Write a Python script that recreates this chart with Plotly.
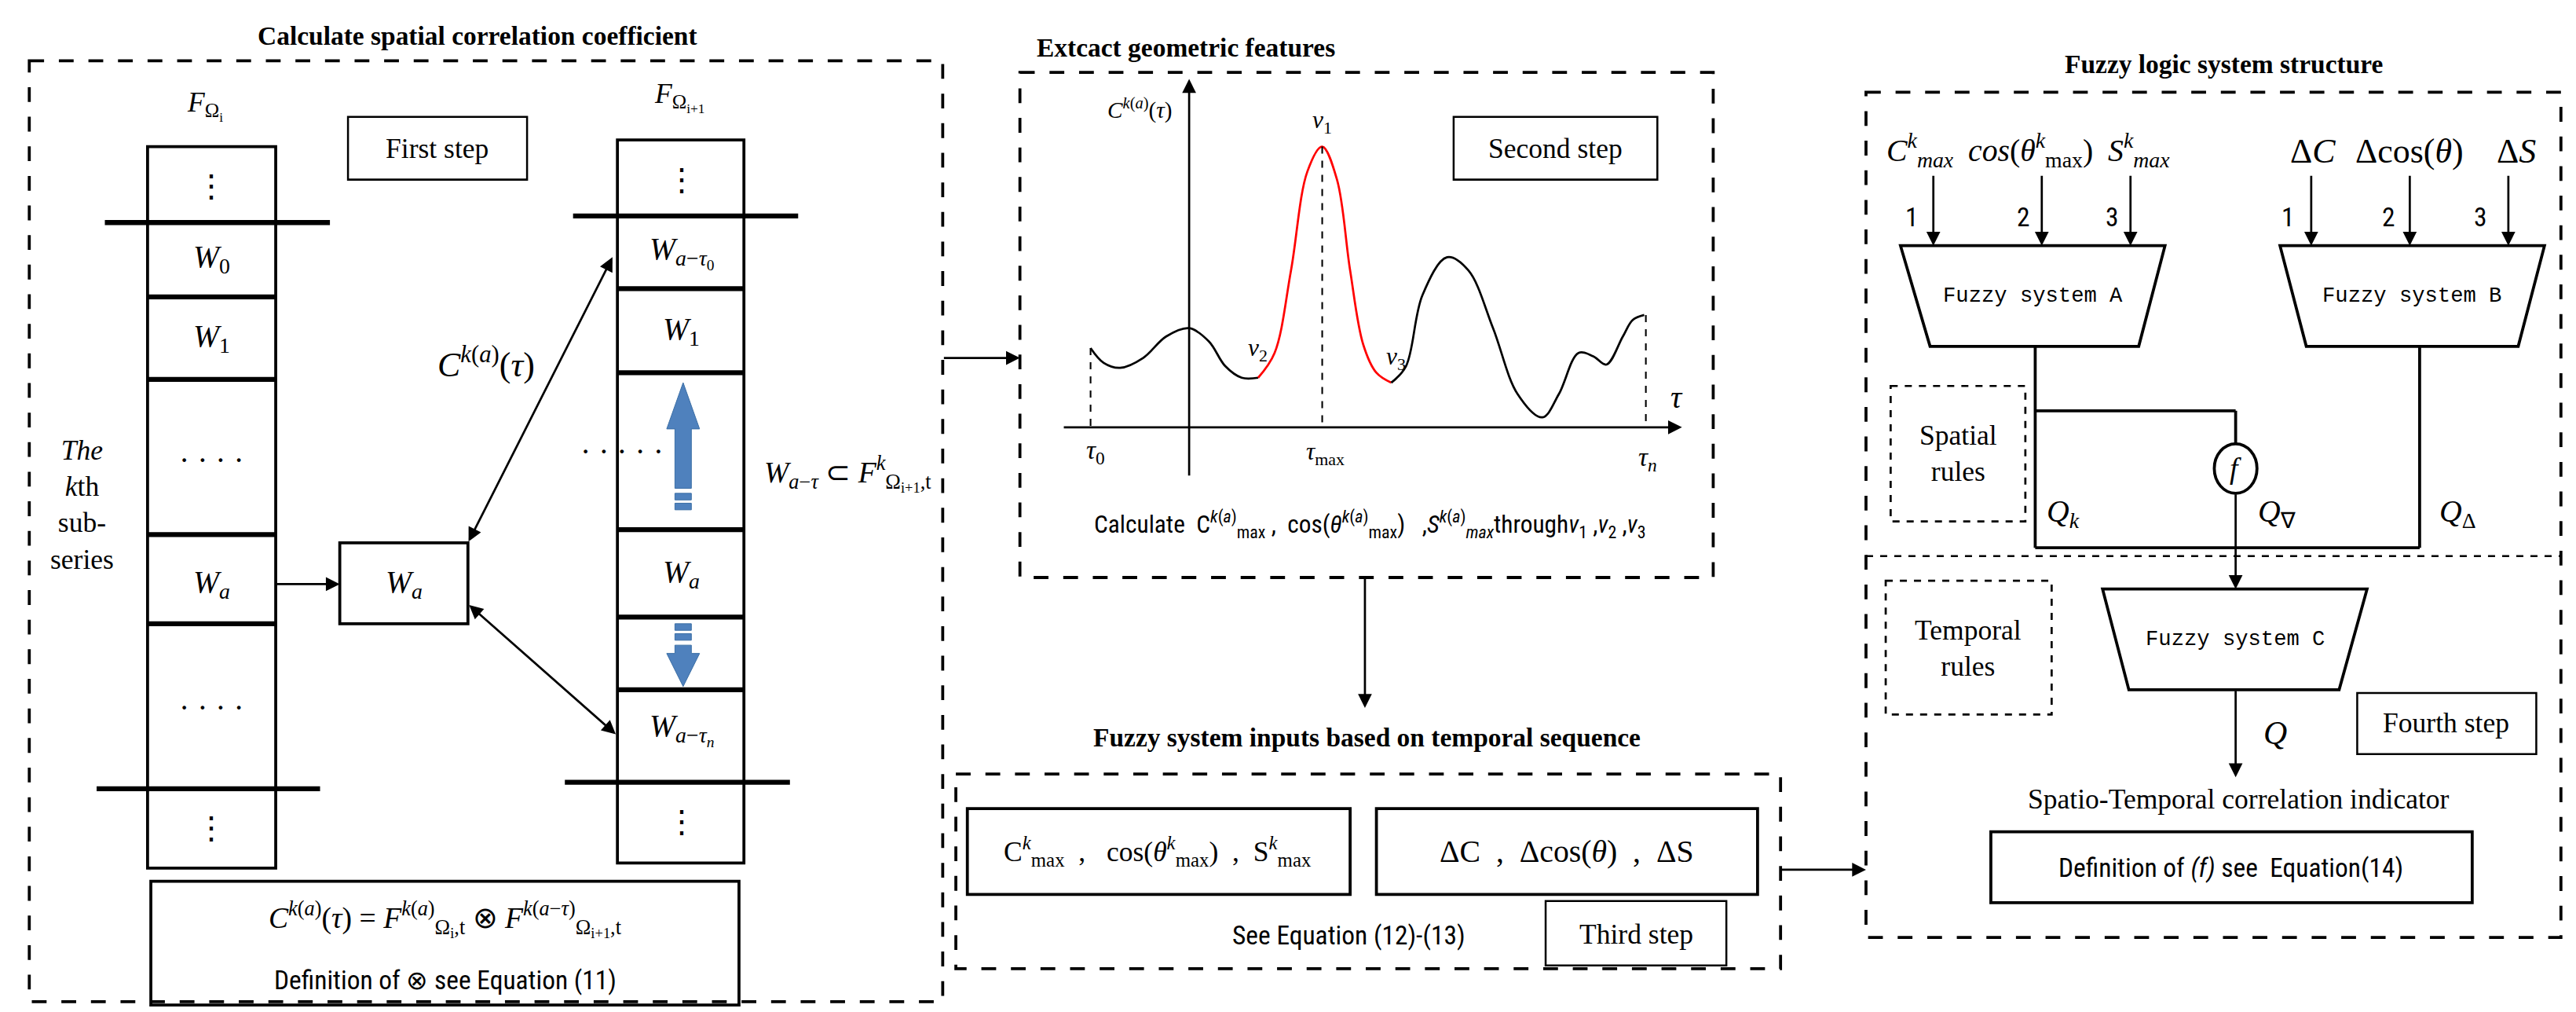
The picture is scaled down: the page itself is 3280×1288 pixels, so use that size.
import plotly.graph_objects as go

# curve in the "second step" panel (panel coordinates, y grows downwards)
curve_a_x = [660, 668, 678, 692, 706, 720, 732, 742, 752, 762]
curve_a_y = [207, 216, 219, 213, 200, 195, 203, 218, 225, 225]
curve_red_x = [762, 772, 782, 792, 801, 810, 818, 826, 834, 843]
curve_red_y = [225, 210, 160, 100, 85, 105, 160, 205, 222, 228]
curve_b_x = [843, 852, 862, 877, 890, 905, 920, 935, 945, 957, 966, 974, 984, 990, 997]
curve_b_y = [228, 218, 175, 152, 160, 195, 235, 249, 235, 210, 212, 217, 200, 190, 187]

left_labels = ["⋮", "<i>W</i><sub>0</sub>", "<i>W</i><sub>1</sub>", "· · · ·", "<i>W</i><sub><i>a</i></sub>", "· · · ·", "⋮"]
right_labels = ["⋮", "<i>W</i><sub><i>a</i>−<i>τ</i><sub>0</sub></sub>", "<i>W</i><sub>1</sub>", "· · · · ·",
                "<i>W</i><sub><i>a</i></sub>", "", "<i>W</i><sub><i>a</i>−<i>τ</i><sub><i>n</i></sub></sub>", "⋮"]

SERIF = "Liberation Serif"
NARROW = "Roboto Condensed, Liberation Sans Narrow, Noto Sans"
S = 3280 / 1568

fig = go.Figure()
shapes = []
ann = []


def box(x0, y0, x1, y1, w=1.8, dash="solid"):
    shapes.append(dict(type="rect", x0=x0, y0=y0, x1=x1, y1=y1, line=dict(color="black", width=w * S, dash=dash)))


def line(x0, y0, x1, y1, w=1.8, dash="solid", color="black"):
    shapes.append(dict(type="line", x0=x0, y0=y0, x1=x1, y1=y1, line=dict(color=color, width=w * S, dash=dash)))


def text(x, y, t, size=13, font=SERIF, bold=False):
    if bold:
        t = "<b>" + t + "</b>"
    ann.append(dict(x=x, y=y, text=t, showarrow=False, font=dict(family=font, size=size * S, color="black")))


def arrow(x0, y0, x1, y1, both=False):
    ann.append(dict(x=x1, y=y1, ax=x0, ay=y0, axref="x", ayref="y", xref="x", yref="y", text="",
                    showarrow=True, arrowhead=2, arrowsize=1.3, arrowwidth=1.3 * S, arrowcolor="black",
                    arrowside="end+start" if both else "end", standoff=0, startstandoff=0))


def trap(xt0, xt1, xb0, xb1, yt, yb, label):
    shapes.append(dict(type="path", path=f"M{xt0},{yt} L{xt1},{yt} L{xb1},{yb} L{xb0},{yb} Z",
                       line=dict(color="black", width=1.8 * S)))
    text((xt0 + xt1) / 2, (yt + yb) / 2, label, 13, "Liberation Mono, DejaVu Sans Mono")


DASH = "8px,5px"

# ---------- panel 1 ----------
box(14, 33, 570, 603, 1.8, "longdash")
text(287, 18, "Calculate spatial correlation coefficient", 16, SERIF, True)
text(121, 60, "<i>F</i><sub>Ω<sub>i</sub></sub>", 17)
box(86, 85, 164, 522)
for y, x0, x1 in [(131, 60, 197), (176, 86, 164), (226, 86, 164), (320, 86, 164), (374, 86, 164), (474, 55, 191)]:
    line(x0, y, x1, y, 3)
for y, t in zip([109, 153, 201, 275, 350, 425, 498], left_labels):
    text(125, y, t, 19)
text(46, 302, "<i>The</i><br><i>k</i>th<br>sub-<br>series", 17)
box(208, 67, 317, 105, 1.2)
text(262, 86, "First step", 17)
box(203, 325, 281, 374)
text(242, 350, "<i>W</i><sub><i>a</i></sub>", 19)
arrow(164, 350, 203, 350)

text(410, 55, "<i>F</i><sub>Ω<sub>i+1</sub></sub>", 17)
box(372, 81, 449, 519)
for y, x0, x1 in [(127, 345, 482), (171, 372, 449), (222, 372, 449), (317, 372, 449), (370, 372, 449), (414, 372, 449), (470, 340, 477)]:
    line(x0, y, x1, y, 3)
for y, t in zip([105, 149, 197, 270, 344, 392, 438, 494], right_labels):
    text(411 if t != "· · · · ·" else 375, y, t, 19)

blue = "#4f81bd"
shapes.append(dict(type="path", path="M402,256 L412,228 L422,256 L417,256 L417,292 L407,292 L407,256 Z",
                   fillcolor=blue, line=dict(color="#3a6ea5", width=1)))
shapes.append(dict(type="path", path="M402,392 L412,412 L422,392 L417,392 L417,387 L407,387 L407,392 Z",
                   fillcolor=blue, line=dict(color="#3a6ea5", width=1)))
for y0 in [295, 301, 374, 380]:
    shapes.append(dict(type="rect", x0=407, x1=417, y0=y0, y1=y0 + 4, fillcolor=blue, line=dict(color="#3a6ea5", width=1)))

arrow(281, 325, 369, 152, both=True)
arrow(281, 362, 371, 441, both=True)
text(292, 216, "<i>C</i><sup><i>k</i>(<i>a</i>)</sup>(<i>τ</i>)", 21)
text(512, 283, "<i>W</i><sub><i>a</i>−<i>τ</i></sub> ⊂ <i>F</i><sup><i>k</i></sup><sub>Ω<sub>i+1</sub>,t</sub>", 18)

box(88, 530, 446, 605)
text(267, 553, "<i>C</i><sup><i>k</i>(<i>a</i>)</sup>(<i>τ</i>) = <i>F</i><sup><i>k</i>(<i>a</i>)</sup><sub>Ω<sub>i</sub>,t</sub> ⊗ "
     "<i>F</i><sup><i>k</i>(<i>a</i>−<i>τ</i>)</sup><sub>Ω<sub>i+1</sub>,t</sub>", 18)
text(267, 590, "Definition of ⊗ see Equation (11)", 16, NARROW)
arrow(570, 213, 617, 213)

# ---------- panel 2 ----------
box(617, 40, 1039, 346, 1.8, "longdash")
text(718, 25, "Extcact geometric features", 16, SERIF, True)
arrow(720, 285, 720, 44)
arrow(643, 255, 1020, 255)
line(660, 207, 660, 255, 1, "dash")
line(801, 85, 801, 255, 1, "dash")
line(998, 187, 998, 255, 1, "dash")
fig.add_trace(go.Scatter(x=curve_a_x, y=curve_a_y, mode="lines", line=dict(color="black", width=1.3 * S, shape="spline")))
fig.add_trace(go.Scatter(x=curve_red_x, y=curve_red_y, mode="lines", line=dict(color="red", width=1.3 * S, shape="spline")))
fig.add_trace(go.Scatter(x=curve_b_x, y=curve_b_y, mode="lines", line=dict(color="black", width=1.3 * S, shape="spline")))
text(690, 62, "<i>C</i><sup><i>k</i>(<i>a</i>)</sup>(<i>τ</i>)", 14)
text(801, 70, "<i>v</i><sub>1</sub>", 15)
text(762, 208, "<i>v</i><sub>2</sub>", 15)
text(846, 213, "<i>v</i><sub>3</sub>", 15)
text(1017, 237, "<i>τ</i>", 19)
text(663, 270, "<i>τ</i><sub>0</sub>", 16)
text(803, 271, "<i>τ</i><sub>max</sub>", 15)
text(999, 274, "<i>τ</i><sub><i>n</i></sub>", 16)
box(881, 67, 1005, 105, 1.2)
text(943, 86, "Second step", 17)
text(830, 314, "Calculate  C<sup><i>k</i>(<i>a</i>)</sup><sub>max</sub> ,  cos(<i>θ</i><sup><i>k</i>(<i>a</i>)</sup><sub>max</sub>)   ,"
     "<i>S</i><sup><i>k</i>(<i>a</i>)</sup><sub><i>max</i></sub>through<i>v</i><sub>1</sub> ,<i>v</i><sub>2</sub> ,<i>v</i><sub>3</sub>", 15, NARROW)
arrow(827, 346, 827, 425)

# ---------- panel 3 ----------
text(828, 443, "Fuzzy system inputs based on temporal sequence", 16, SERIF, True)
box(578, 465, 1080, 583, 1.8, "longdash")
box(585, 486, 818, 538)
text(701, 512, "C<sup><i>k</i></sup><sub>max</sub>  ,   cos(<i>θ</i><sup><i>k</i></sup><sub>max</sub>)  ,  S<sup><i>k</i></sup><sub>max</sub>", 17)
box(834, 486, 1066, 538)
text(950, 512, "ΔC  ,  Δcos(<i>θ</i>)  ,  ΔS", 19)
text(817, 563, "See Equation (12)-(13)", 16, NARROW)
box(937, 542, 1047, 581, 1.2)
text(992, 562, "Third step", 17)
arrow(1080, 523, 1132, 523)

# ---------- panel 4 ----------
text(1350, 35, "Fuzzy logic system structure", 16, SERIF, True)
box(1132, 52, 1555, 564, 1.8, "longdash")
line(1132, 333, 1555, 333, 1.2, "dash")
text(1165, 87, "<i>C</i><sup><i>k</i></sup><sub><i>max</i></sub>", 19)
text(1232, 87, "<i>cos</i>(<i>θ</i><sup><i>k</i></sup><sub>max</sub>)", 19)
text(1298, 87, "<i>S</i><sup><i>k</i></sup><sub><i>max</i></sub>", 19)
text(1404, 88, "Δ<i>C</i>", 21)
text(1463, 88, "Δcos(<i>θ</i>)", 21)
text(1528, 88, "Δ<i>S</i>", 21)
for xs, ls in [([1173, 1239, 1293], [1160, 1228, 1282]), ([1403, 1463, 1523], [1389, 1450, 1506])]:
    for i, (xa, xl) in enumerate(zip(xs, ls)):
        arrow(xa, 102, xa, 145)
        text(xl, 128, str(i + 1), 16, NARROW)
trap(1153, 1314, 1171, 1298, 145, 206, "Fuzzy system A")
trap(1384, 1545, 1400, 1529, 145, 206, "Fuzzy system B")
line(1235, 206, 1235, 328)
line(1469, 206, 1469, 328)
line(1235, 328, 1469, 328)
line(1235, 245, 1357, 245)
line(1357, 245, 1357, 266)
shapes.append(dict(type="circle", x0=1344, x1=1370, y0=265, y1=295, line=dict(color="black", width=1.8 * S), fillcolor="white"))
text(1357, 280, "<i>f</i>", 18)
arrow(1357, 295, 1357, 353)
box(1147, 230, 1229, 312, 1.3, "dash")
text(1188, 271, "Spatial<br>rules", 17)
text(1252, 307, "<i>Q</i><sub><i>k</i></sub>", 19)
text(1382, 307, "<i>Q</i><sub>∇</sub>", 19)
text(1492, 307, "<i>Q</i><sub>Δ</sub>", 19)
trap(1276, 1437, 1292, 1420, 353, 414, "Fuzzy system C")
box(1144, 348, 1245, 429, 1.3, "dash")
text(1194, 389, "Temporal<br>rules", 17)
arrow(1357, 414, 1357, 467)
text(1381, 440, "<i>Q</i>", 20)
box(1431, 416, 1540, 453, 1.2)
text(1485, 434, "Fourth step", 17)
text(1359, 480, "Spatio-Temporal correlation indicator", 17)
box(1208, 500, 1501, 543)
text(1354, 522, "Definition of <i>(f)</i> see  Equation(14)", 16, NARROW)

fig.update_layout(
    width=3280, height=1288, autosize=False, showlegend=False,
    margin=dict(l=0, r=0, t=0, b=0),
    paper_bgcolor="white", plot_bgcolor="white",
    xaxis=dict(range=[0, 1568], visible=False, fixedrange=True),
    yaxis=dict(range=[613, 0], visible=False, fixedrange=True),
    shapes=shapes, annotations=ann,
)
fig.write_html("out.html")
